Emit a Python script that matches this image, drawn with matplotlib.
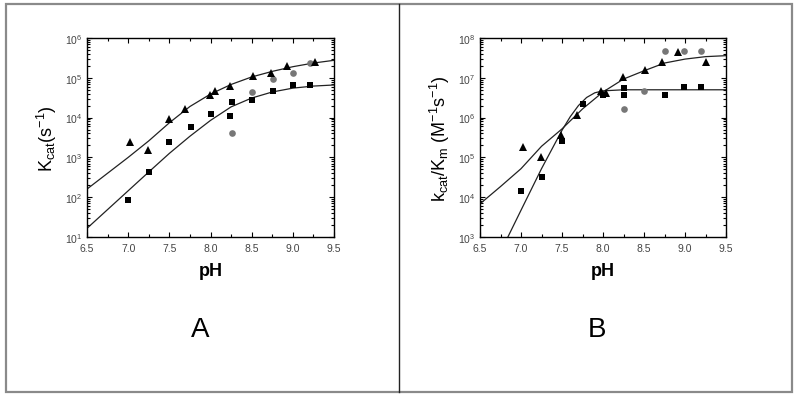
import matplotlib
matplotlib.use("Agg")
import matplotlib.pyplot as plt
from matplotlib.ticker import LogLocator, MultipleLocator, NullFormatter
from matplotlib.patches import Rectangle
from matplotlib.lines import Line2D

plt.rcParams['font.family'] = ['Liberation Sans', 'DejaVu Sans']
plt.rcParams['mathtext.fontset'] = 'custom'
plt.rcParams['mathtext.rm'] = 'Liberation Sans'
plt.rcParams['mathtext.it'] = 'Liberation Sans'

# ---------------- Panel A data: kcat (s^-1) ----------------
a_tri_ph = [7.02, 7.24, 7.50, 7.69, 7.99, 8.05, 8.24, 8.52, 8.73, 8.93, 9.27]
a_tri_val = [2.5e3, 1.5e3, 9.0e3, 1.65e4, 3.8e4, 4.7e4, 6.4e4, 1.1e5, 1.35e5, 2.0e5, 2.5e5]
a_sq_ph = [7.00, 7.25, 7.50, 7.76, 8.00, 8.24, 8.26, 8.51, 8.76, 9.00, 9.21]
a_sq_val = [83, 420, 2.4e3, 5.9e3, 1.23e4, 1.12e4, 2.5e4, 2.8e4, 4.7e4, 6.6e4, 6.6e4]
a_ci_ph = [8.26, 8.51, 8.76, 9.00, 9.21]
a_ci_val = [4.0e3, 4.5e4, 9.4e4, 1.3e5, 2.4e5]
a_fit_ph = [6.5, 7.0, 7.25, 7.5, 7.75, 8.0, 8.25, 8.5, 8.75, 9.0, 9.25, 9.5]
a_fit_up = [1.6e2, 1.0e3, 2.6e3, 7.4e3, 1.9e4, 3.9e4, 6.8e4, 1.05e5, 1.45e5, 1.9e5, 2.35e5, 2.75e5]
a_fit_lo = [16.5, 1.45e2, 4.3e2, 1.26e3, 3.4e3, 8.5e3, 1.86e4, 3.1e4, 4.4e4, 5.5e4, 6.2e4, 6.6e4]

# ---------------- Panel B data: kcat/Km (M^-1 s^-1) ----------------
b_tri_ph = [7.02, 7.24, 7.49, 7.68, 7.98, 8.04, 8.24, 8.51, 8.72, 8.92, 9.26]
b_tri_val = [1.8e5, 1.0e5, 3.7e5, 1.15e6, 4.6e6, 4.2e6, 1.05e7, 1.55e7, 2.5e7, 4.5e7, 2.5e7]
b_sq_ph = [7.00, 7.26, 7.50, 7.76, 8.00, 8.25, 8.25, 8.76, 8.99, 9.20]
b_sq_val = [1.4e4, 3.3e4, 2.6e5, 2.2e6, 3.8e6, 5.4e6, 3.8e6, 3.8e6, 6.0e6, 6.0e6]
b_ci_ph = [8.25, 8.50, 8.75, 8.99, 9.20]
b_ci_val = [1.6e6, 4.7e6, 4.7e7, 4.7e7, 4.6e7]
b_fit1_ph = [6.5, 6.75, 7.0, 7.25, 7.5, 7.75, 8.0, 8.25, 8.5, 8.75, 9.0, 9.25, 9.5]
b_fit1 = [6.8e3, 1.85e4, 5.2e4, 1.9e5, 5.2e5, 1.65e6, 4.4e6, 9.3e6, 1.5e7, 2.35e7, 2.95e7, 3.4e7, 3.6e7]
b_fit2_ph = [6.84, 7.0, 7.25, 7.5, 7.6, 7.7, 7.8, 7.9, 8.0, 8.25, 8.5, 9.0, 9.5]
b_fit2 = [1.0e3, 4.7e3, 5.2e4, 4.8e5, 1.05e6, 2.0e6, 3.2e6, 4.2e6, 4.7e6, 5.0e6, 5.0e6, 5.0e6, 5.0e6]

fig = plt.figure(figsize=(8.0, 4.02), dpi=100)

# outer frame and divider
fig.add_artist(Rectangle((6/800, 1-393/402), 786/800, 388/402, transform=fig.transFigure,
                         fill=False, edgecolor='#8a8a8a', linewidth=1.6))
fig.add_artist(Line2D([399/800, 399/800], [1-393/402, 1-5/402], transform=fig.transFigure,
                      color='#222222', linewidth=1.0))

axA = fig.add_axes([87/800, 1-238/402, 247/800, 199/402])
axB = fig.add_axes([480/800, 1-238/402, 246/800, 199/402])

def style(ax, ylo, yhi):
    ax.set_yscale('log')
    ax.set_xlim(6.5, 9.5)
    ax.set_ylim(ylo, yhi)
    ax.xaxis.set_major_locator(MultipleLocator(0.5))
    ax.xaxis.set_minor_locator(MultipleLocator(0.25))
    ax.yaxis.set_major_locator(LogLocator(base=10, numticks=12))
    ax.yaxis.set_minor_locator(LogLocator(base=10, subs=range(2, 10), numticks=12))
    ax.yaxis.set_minor_formatter(NullFormatter())
    ax.tick_params(which='both', direction='in', top=True, right=True,
                   labelsize=7.5, labelcolor='#444444', width=0.8)
    ax.tick_params(which='major', length=3.5)
    ax.tick_params(which='minor', length=2)
    ax.tick_params(axis='x', pad=4)
    for s in ax.spines.values():
        s.set_linewidth(1.0)
    ax.set_xticks([6.5, 7.0, 7.5, 8.0, 8.5, 9.0, 9.5])
    ax.set_xticklabels(['6.5', '7.0', '7.5', '8.0', '8.5', '9.0', '9.5'])
    ax.set_xlabel('pH', fontsize=13, fontweight='bold', labelpad=7)

style(axA, 10, 1e6)
style(axB, 1e3, 1e8)

for ax, tp, tv, sp, sv, cp, cv in [
        (axA, a_tri_ph, a_tri_val, a_sq_ph, a_sq_val, a_ci_ph, a_ci_val),
        (axB, b_tri_ph, b_tri_val, b_sq_ph, b_sq_val, b_ci_ph, b_ci_val)]:
    ax.plot(cp, cv, 'o', color='#777777', markersize=4.8, markeredgewidth=0, zorder=3)
    ax.plot(sp, sv, 's', color='black', markersize=4.2, markeredgewidth=0, zorder=4)
    ax.plot(tp, tv, '^', color='black', markersize=5.3, markeredgewidth=0, zorder=4)

axA.plot(a_fit_ph, a_fit_up, '-', color='#222222', linewidth=0.9)
axA.plot(a_fit_ph, a_fit_lo, '-', color='#222222', linewidth=0.9)
axB.plot(b_fit1_ph, b_fit1, '-', color='#222222', linewidth=0.9)
axB.plot(b_fit2_ph, b_fit2, '-', color='#222222', linewidth=0.9)

axA.set_ylabel(r'K$_{\mathrm{cat}}$(s$^{-1}$)', fontsize=13, labelpad=4)
axB.set_ylabel(r'k$_{\mathrm{cat}}$/K$_{\mathrm{m}}$ (M$^{-1}$s$^{-1}$)', fontsize=13, labelpad=4)

fig.text(200/800, 1-330/402, 'A', fontsize=20, ha='center', va='center')
fig.text(597/800, 1-330/402, 'B', fontsize=20, ha='center', va='center')

fig.savefig('out.png', dpi=100)
